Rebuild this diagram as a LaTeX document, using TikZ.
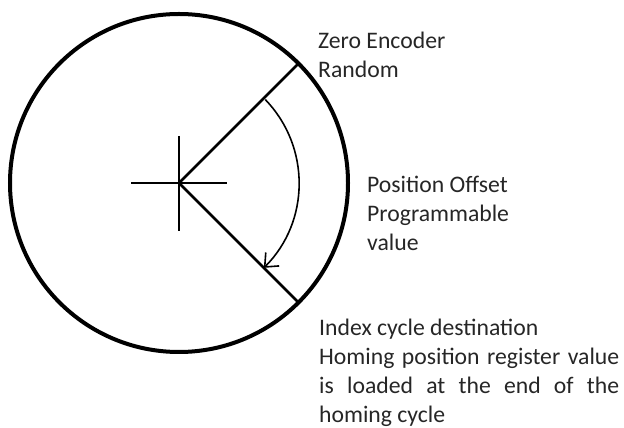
\documentclass[tikz,border=0pt]{standalone}
\usepackage{fontspec}
\setmainfont{Carlito}
\usetikzlibrary{arrows.meta}
\begin{document}
\begin{tikzpicture}[
  x=1pt, y=1pt,
  disco/.style={draw=black, line width=4pt, circle, minimum size=338pt, inner sep=0pt, outer sep=0pt},
  radio/.style={draw=black, line width=2.8pt},
  cruz/.style={draw=black, line width=1.8pt},
  flecha/.style={draw=black, line width=1.6pt, -{Straight Barb[length=11pt, width=19pt, line width=1.6pt]}},
  etiqueta/.style={anchor=base west, inner sep=0pt, align=left, text=black!85, font=\fontsize{23.7}{29}\selectfont}
]
\useasboundingbox (0,0) rectangle (624,428);
\coordinate (centro) at (179,245);
\node[disco] (rueda) at (centro) {};
% cruz del centro
\draw[cruz] ([xshift=-48pt]centro) -- ([xshift=48pt]centro);
\draw[cruz] ([yshift=47pt]centro) -- ([yshift=-48pt]centro);
% radios hasta el borde
\draw[radio] (centro) -- (rueda.45);
\draw[radio] (centro) -- (rueda.-45);
\draw[flecha] ([shift={(44:120)}]centro) arc[start angle=44, end angle=-45, radius=120];
% textos (base = ultima linea, o primera con text width)
\node[etiqueta] (cero) at (318,350) {Zero Encoder\\Random};
\node[etiqueta] (offset) at (367,177) {Position Offset\\Programmable\\value};
\node[etiqueta, text width=300pt, align=justify] (indice) at (319,92)
  {Index cycle destination\\Homing position register value\linebreak is loaded at the end of the\linebreak homing cycle};
\end{tikzpicture}
\end{document}
